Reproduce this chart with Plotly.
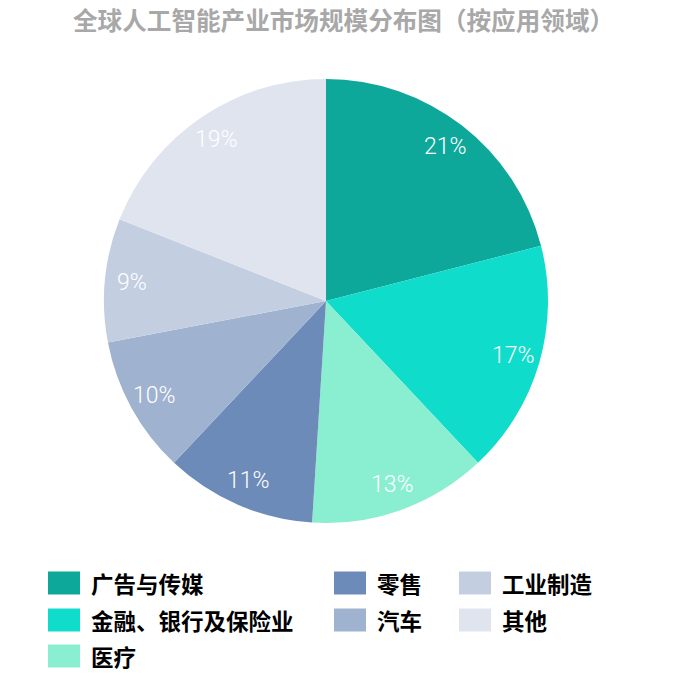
import math
import plotly.graph_objects as go

categories = ["广告与传媒", "金融、银行及保险业", "医疗", "零售", "汽车", "工业制造", "其他"]
values = [21, 17, 13, 11, 10, 9, 19]
colors = ["#0ea89b", "#10dccb", "#8aeed0", "#6d8bb8", "#9fb2d0", "#c4cee1", "#dfe4ef"]
title_text = "全球人工智能产业市场规模分布图（按应用领域）"

W, H = 700, 680
cx, cy, R = 326, 301, 222

fig = go.Figure()
fig.add_trace(go.Pie(
    labels=categories,
    values=values,
    marker=dict(colors=colors, line=dict(width=0)),
    sort=False,
    direction="clockwise",
    rotation=0,
    textinfo="none",
    hoverinfo="label+percent",
    showlegend=False,
    domain=dict(x=[(cx - R) / W, (cx + R) / W], y=[(H - cy - R) / H, (H - cy + R) / H]),
))

annotations = []
total = sum(values)
cum = 0
for v in values:
    mid = (cum + v / 2) / total * 2 * math.pi
    cum += v
    rl = 0.88 * R
    px = cx + rl * math.sin(mid)
    py = cy - rl * math.cos(mid)
    annotations.append(dict(
        x=px / W, y=1 - py / H, xref="paper", yref="paper",
        text=f"{round(v / total * 100)}%", showarrow=False,
        font=dict(family="Roboto", size=23, color="white", weight=300),
        xanchor="center", yanchor="middle",
    ))

annotations.append(dict(
    x=343 / W, y=1 - 19 / H, xref="paper", yref="paper", text=title_text,
    showarrow=False, xanchor="center", yanchor="middle",
    font=dict(family="Noto Sans CJK SC", size=24.6, color="#a8a8a8", weight="bold"),
))

# manual legend, column-major
col_x = [48, 334, 459]
row_y = [583, 620, 656]
layout_pos = [(0, 0), (0, 1), (0, 2), (1, 0), (1, 1), (2, 0), (2, 1)]
shapes = []
for (c, r), name, col in zip(layout_pos, categories, colors):
    x0 = col_x[c]
    yc = row_y[r]
    shapes.append(dict(type="rect", xref="paper", yref="paper",
                       x0=x0 / W, x1=(x0 + 32) / W, y0=1 - (yc + 11.5) / H, y1=1 - (yc - 11.5) / H,
                       fillcolor=col, line=dict(width=0)))
    annotations.append(dict(
        x=(x0 + 41) / W, y=1 - yc / H, xref="paper", yref="paper", text=name,
        showarrow=False, xanchor="left", yanchor="middle",
        font=dict(family="Noto Sans CJK SC", size=22.5, color="#000000", weight="bold"),
    ))

fig.update_layout(
    width=W, height=H,
    margin=dict(l=0, r=0, t=0, b=0),
    paper_bgcolor="white", plot_bgcolor="white",
    annotations=annotations, shapes=shapes,
    showlegend=False,
)

fig.write_html("out.html", config={"displayModeBar": False},
               post_script="document.body.style.margin='0';")
